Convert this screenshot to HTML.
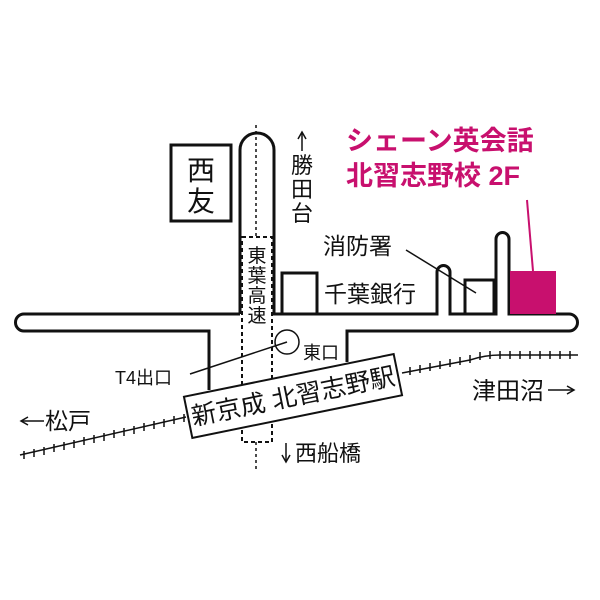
<!DOCTYPE html>
<html><head><meta charset="utf-8"><style>
html,body{margin:0;padding:0;background:#fff;}
svg{display:block;}
text{font-family:"Liberation Sans","Noto Sans CJK JP",sans-serif;fill:#111;}
</style></head><body>
<svg width="600" height="600" viewBox="0 0 600 600" xmlns="http://www.w3.org/2000/svg">
<rect width="600" height="600" fill="#fff"/>
<g fill="none" stroke="#111" stroke-width="3">
<path d="M240,314 L240,150 A17,17 0 0 1 274,150 L274,314 L437,314 L437,272 A6.5,6.5 0 0 1 450,272 L450,314 L496,314 L496,239 A6.5,6.5 0 0 1 509,239 L509,314 L569,314 A8.5,8.5 0 0 1 569,331 L347,331 L347,362"/>
<path d="M240,314 L24,314 A8.5,8.5 0 0 0 24,331 L209,331 L209,390"/>
<rect x="171" y="145" width="60" height="76"/>
<rect x="282" y="273" width="35" height="41"/>
<rect x="465" y="280" width="29" height="34"/>
</g>
<rect x="510" y="271" width="46" height="43" fill="#c8106e"/>
<line x1="527" y1="200" x2="533" y2="271" stroke="#c8106e" stroke-width="2"/>
<rect x="242" y="237" width="30" height="205" fill="none" stroke="#111" stroke-width="2" stroke-dasharray="4,3"/>
<line x1="256" y1="125" x2="256" y2="237" stroke="#111" stroke-width="1.5" stroke-dasharray="3,3"/>
<line x1="256" y1="442" x2="256" y2="470" stroke="#111" stroke-width="1.5" stroke-dasharray="3,3"/>
<line x1="406" y1="250" x2="476" y2="293" stroke="#111" stroke-width="1.5"/>
<circle cx="287" cy="342" r="12" fill="#fff" stroke="#111" stroke-width="1.5"/>
<line x1="287" y1="342" x2="190" y2="374" stroke="#111" stroke-width="1.5"/>
<g stroke="#111" stroke-width="1.5" fill="none">
<path d="M20,455 L186,417"/>
<path d="M402,373 L470,360 Q485,355 500,355 L578,355"/>
<path d="M24,451v8M34,449v8M44,447v8M54,444v8M64,442v8M74,440v8M84,437v8M94,435v8M104,433v8M114,430v8M124,428v8M134,426v8M144,423v8M154,421v8M164,419v8M174,416v8M184,414v8"/>
<path d="M410,367v8M420,365v8M430,363v8M440,361v8M450,359v8M460,357v8M470,355v8M480,352v8M490,351v8M500,351v8M510,351v8M520,351v8M530,351v8M540,351v8M550,351v8M560,351v8M570,351v8"/>
</g>
<g transform="translate(293,396) rotate(-11.5)">
<rect x="-107" y="-21" width="214" height="42" fill="#fff" stroke="#111" stroke-width="2"/>
<text x="0" y="9" font-size="25" text-anchor="middle">新京成  北習志野駅</text>
</g>
<text x="201" y="180" font-size="28" text-anchor="middle">西</text>
<text x="201" y="211" font-size="28" text-anchor="middle">友</text>
<g font-size="19" text-anchor="middle">
<text x="257" y="262">東</text><text x="257" y="282">葉</text><text x="257" y="302">高</text><text x="257" y="322">速</text>
</g>
<g font-size="22" text-anchor="middle">
<text x="302" y="173">勝</text><text x="302" y="197">田</text><text x="302" y="221">台</text>
</g>
<line x1="302" y1="151" x2="302" y2="133" stroke="#111" stroke-width="1.5"/>
<path d="M298,139 L302,132 L306,139" fill="none" stroke="#111" stroke-width="1.5"/>
<text x="323" y="254" font-size="23">消防署</text>
<text x="324" y="302" font-size="23">千葉銀行</text>
<text x="303" y="359" font-size="18">東口</text>
<text x="115" y="384" font-size="18">T4出口</text>
<line x1="22" y1="421" x2="44" y2="421" stroke="#111" stroke-width="1.5"/>
<path d="M28,417 L21,421 L28,425" fill="none" stroke="#111" stroke-width="1.5"/>
<text x="45" y="429" font-size="23">松戸</text>
<text x="472" y="399" font-size="24">津田沼</text>
<line x1="548" y1="390" x2="573" y2="390" stroke="#111" stroke-width="1.5"/>
<path d="M567,386 L574,390 L567,394" fill="none" stroke="#111" stroke-width="1.5"/>
<line x1="286" y1="443" x2="286" y2="461" stroke="#111" stroke-width="1.5"/>
<path d="M282,455 L286,462 L290,455" fill="none" stroke="#111" stroke-width="1.5"/>
<text x="295" y="461" font-size="22">西船橋</text>
<text x="346" y="150" font-size="27" font-weight="bold" style="fill:#c8106e">シェーン英会話</text>
<text x="346" y="185" font-size="27" font-weight="bold" style="fill:#c8106e">北習志野校 2F</text>
</svg>
</body></html>
